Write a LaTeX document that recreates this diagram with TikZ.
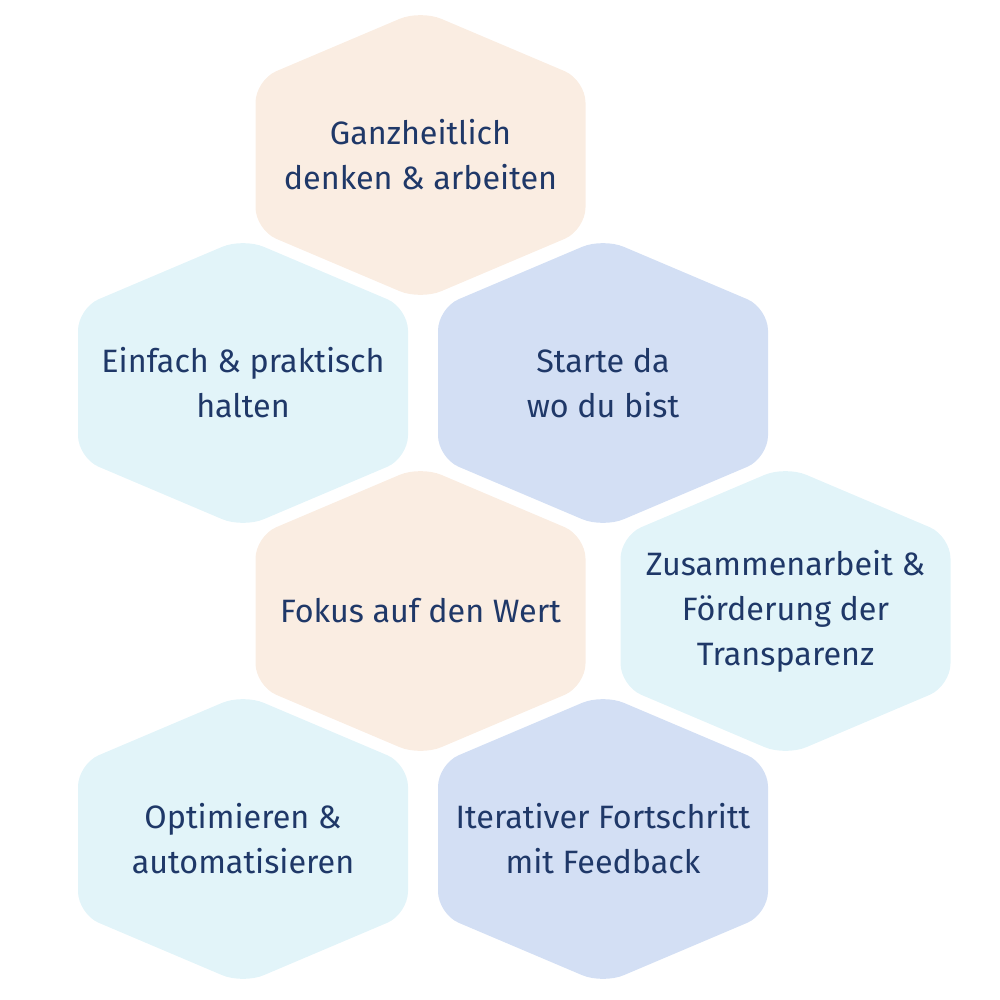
\documentclass[tikz,border=0pt]{standalone}
\usepackage{fontspec}
\setmainfont{Fira Sans}
\usepackage{tikz}
\usetikzlibrary{positioning, backgrounds}
\definecolor{peach}{HTML}{FAEDE2}
\definecolor{icecyan}{HTML}{E2F4F9}
\definecolor{paleblue}{HTML}{D3DFF4}
\definecolor{navy}{HTML}{1F3868}
\tikzstyle{hextext} = [align=center, text=navy, font=\fontsize{18.4}{25.6}\selectfont, on grid]
\newcommand{\hexfill}[2]{%
  \fill[#2, rounded corners=0.45cm] ([shift={(0,2.9)}]#1.center) -- ([shift={(-3.3,1.5)}]#1.center)
    -- ([shift={(-3.3,-1.5)}]#1.center) -- ([shift={(0,-2.9)}]#1.center)
    -- ([shift={(3.3,-1.5)}]#1.center) -- ([shift={(3.3,1.5)}]#1.center) -- cycle;}

\begin{document}
\begin{tikzpicture}
	\useasboundingbox (0,0) rectangle (20,-20);
	\node (ganz) [hextext] at (8.41,-3.1) {Ganzheitlich\\denken \& arbeiten};
	\node (einfach) [hextext, below left=4.56cm and 3.55cm of ganz] {Einfach \& praktisch\\halten};
	\node (starte) [hextext, below right=4.56cm and 3.65cm of ganz] {Starte da\\wo du bist};
	\node (fokus) [hextext, below right=4.56cm and 3.55cm of einfach] {Fokus auf den Wert};
	\node (zusammen) [hextext, below right=4.56cm and 3.65cm of starte] {Zusammenarbeit \&\\Förderung der\\Transparenz};
	\node (optim) [hextext, below left=4.56cm and 3.55cm of fokus] {Optimieren \&\\automatisieren};
	\node (iter) [hextext, below right=4.56cm and 3.65cm of fokus] {Iterativer Fortschritt\\mit Feedback};

	\begin{scope}[on background layer]
		\hexfill{ganz}{peach}
		\hexfill{einfach}{icecyan}
		\hexfill{starte}{paleblue}
		\hexfill{fokus}{peach}
		\hexfill{zusammen}{icecyan}
		\hexfill{optim}{icecyan}
		\hexfill{iter}{paleblue}
	\end{scope}
\end{tikzpicture}
\end{document}
